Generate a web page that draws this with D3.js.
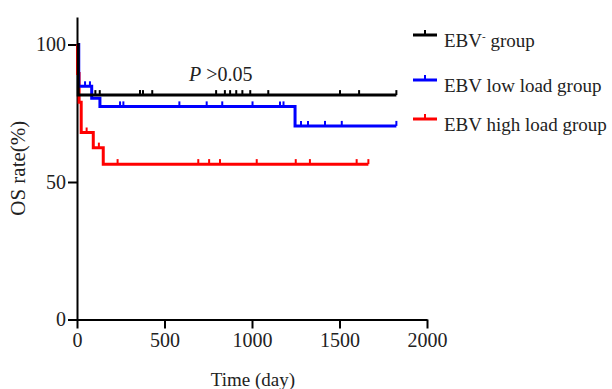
<!DOCTYPE html>
<html>
<head>
<meta charset="utf-8">
<script src="https://cdn.jsdelivr.net/npm/d3@7"></script>
<style>
  html, body { margin: 0; padding: 0; background: #fff; }
  svg { display: block; font-family: "Liberation Serif", "Times New Roman", serif; }
</style>
</head>
<body>
<svg id="chart" width="612" height="389"></svg>
<script>
// survival steps: [day, OS %]
const groupNames = ["EBV", "EBV low load group", "EBV high load group"];
const groupColors = ["#000000", "#0000ff", "#ff0000"];

const blackSteps = [[0, 100], [7, 81.6]];
const blueSteps = [[0, 100], [10, 84.8], [84, 80.5], [131, 77.5], [1246, 70.4]];
const redSteps = [[0, 100], [3, 89.5], [12, 79], [24, 68], [93, 62.5], [150, 56.5]];

const blackEnd = 1825, blueEnd = 1825, redEnd = 1665;

const blackCensor = [105, 130, 360, 377, 430, 795, 845, 875, 910, 945, 990, 1093, 1503, 1612, 1825];
const blueCensor = [46, 74, 246, 265, 585, 741, 830, 1003, 1160, 1180, 1280, 1320, 1417, 1513, 1825];
const redCensor = [55, 125, 232, 693, 755, 817, 1027, 1250, 1331, 1598, 1665];

const xTicks = [0, 500, 1000, 1500, 2000];
const yTicks = [0, 50, 100];

const svg = d3.select("#chart");

const x = d3.scaleLinear().domain([0, 2000]).range([77, 427]);
const y = d3.scaleLinear().domain([0, 110]).range([319.5, 17]);

// axes
const xAxis = svg.append("g")
  .attr("transform", "translate(0," + y(0) + ")")
  .call(d3.axisBottom(x).tickValues(xTicks).tickFormat(d3.format("d"))
    .tickSize(9).tickPadding(4).tickSizeOuter(0));
const yAxis = svg.append("g")
  .attr("transform", "translate(" + x(0) + ",0)")
  .call(d3.axisLeft(y).tickValues(yTicks).tickFormat(d3.format("d"))
    .tickSize(9).tickPadding(2).tickSizeOuter(0));

[xAxis, yAxis].forEach(a => {
  a.select(".domain").attr("stroke", "#000").attr("stroke-width", 2);
  a.selectAll(".tick line").attr("stroke", "#000").attr("stroke-width", 2);
  a.selectAll(".tick text")
    .attr("fill", "#222")
    .style("font-family", "'Liberation Serif', serif")
    .style("font-size", "20px");
});

// step curves
function stepValue(steps, t) {
  let v = steps[0][1];
  steps.forEach(s => { if (s[0] <= t) v = s[1]; });
  return v;
}

const line = d3.line().x(d => x(d[0])).y(d => y(d[1])).curve(d3.curveStepAfter);

const groups = [
  { steps: redSteps, end: redEnd, censor: redCensor, color: groupColors[2] },
  { steps: blueSteps, end: blueEnd, censor: blueCensor, color: groupColors[1] },
  { steps: blackSteps, end: blackEnd, censor: blackCensor, color: groupColors[0] }
];

groups.forEach(g => {
  const pts = g.steps.concat([[g.end, g.steps[g.steps.length - 1][1]]]);
  svg.append("path")
    .attr("d", line(pts))
    .attr("fill", "none")
    .attr("stroke", g.color)
    .attr("stroke-width", 3);
  svg.append("g").selectAll("line")
    .data(g.censor)
    .enter()
    .append("line")
    .attr("x1", d => x(d)).attr("x2", d => x(d))
    .attr("y1", d => y(stepValue(g.steps, d)))
    .attr("y2", d => y(stepValue(g.steps, d)) - 5)
    .attr("stroke", g.color)
    .attr("stroke-width", 2);
});

// P value
const pText = svg.append("text")
  .attr("x", 189).attr("y", 81)
  .attr("fill", "#222")
  .style("font-size", "20px");
pText.append("tspan").style("font-style", "italic").text("P");
pText.append("tspan").text(" >0.05");

// legend
const legendY = [35, 80, 119];
[0, 1, 2].forEach(i => {
  const gy = legendY[i];
  const lg = svg.append("g");
  lg.append("line")
    .attr("x1", 413).attr("x2", 437).attr("y1", gy).attr("y2", gy)
    .attr("stroke", groupColors[i]).attr("stroke-width", 3);
  lg.append("line")
    .attr("x1", 425).attr("x2", 425).attr("y1", gy).attr("y2", gy - 5)
    .attr("stroke", groupColors[i]).attr("stroke-width", 2);
  const t = lg.append("text")
    .attr("x", 444).attr("y", gy + 12)
    .attr("fill", "#222")
    .style("font-size", "19px");
  if (i === 0) {
    t.append("tspan").text(groupNames[0]);
    t.append("tspan").attr("dy", -7).style("font-size", "11px").text("-");
    t.append("tspan").attr("dy", 7).text(" group");
  } else {
    t.text(groupNames[i]);
  }
});

// axis titles
svg.append("text")
  .attr("transform", "translate(25," + ((y(0) + y(110)) / 2) + ") rotate(-90)")
  .attr("text-anchor", "middle")
  .attr("fill", "#222")
  .style("font-size", "21px")
  .text("OS rate(%)");

svg.append("text")
  .attr("x", (x(0) + x(2000)) / 2 + 1).attr("y", 386)
  .attr("text-anchor", "middle")
  .attr("fill", "#222")
  .style("font-size", "19px")
  .text("Time (day)");
</script>
</body>
</html>
